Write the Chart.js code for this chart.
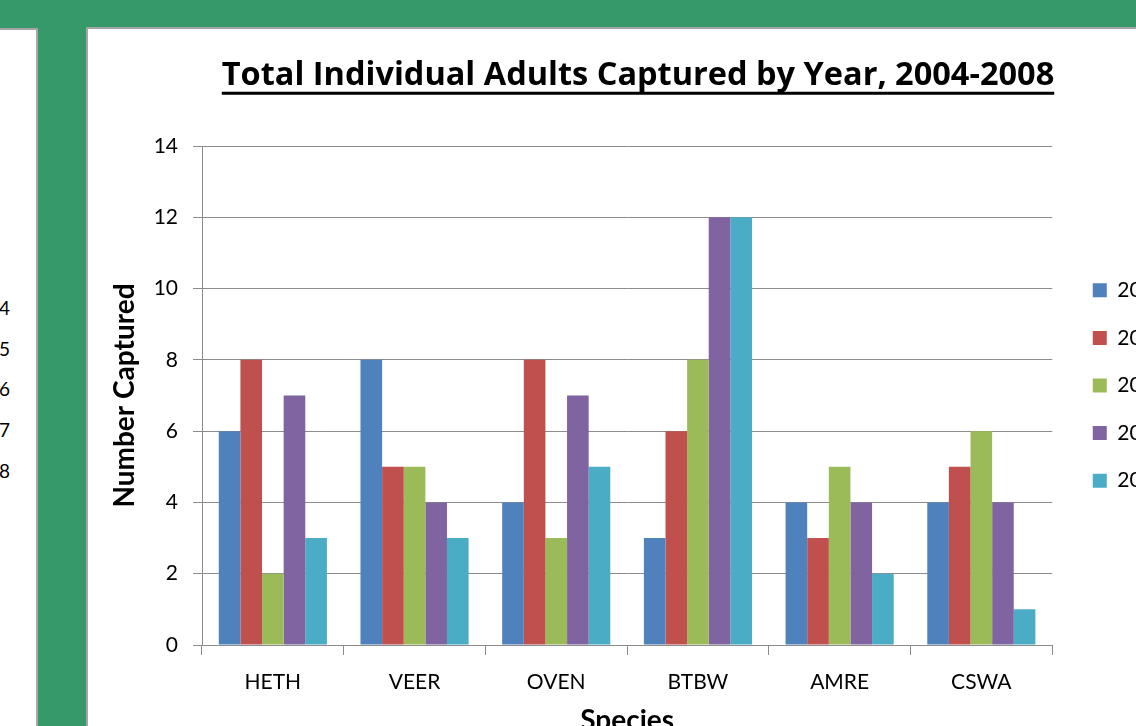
<!DOCTYPE html>
<html>
<head>
<meta charset="utf-8" />
<script src="https://cdn.jsdelivr.net/npm/chart.js@4.4.0/dist/chart.umd.min.js"></script>
<style>
  body { margin:0; width:1136px; height:726px; overflow:hidden; background:#35996a; font-family:Lato, sans-serif; position:relative; }
  #sheet { position:absolute; left:-2px; top:28px; width:38px; height:720px; background:#fff; border-top:2px solid #a6a6a6; border-right:2px solid #a6a6a6; overflow:hidden; }
  #sheet div { position:absolute; right:26px; height:20px; line-height:20px; font-size:19px; color:#000; white-space:nowrap; }
  #panel { position:absolute; left:86px; top:27px; width:1200px; height:760px; background:#fff; border-top:2px solid #a6a6a6; border-left:2px solid #a6a6a6; }
  #holder { position:absolute; left:1px; top:2px; width:1098px; height:709px; }
</style>
</head>
<body>
<div id="sheet">
  <div style="top:268px">2004</div>
  <div style="top:309px">2005</div>
  <div style="top:349px">2006</div>
  <div style="top:390px">2007</div>
  <div style="top:431px">2008</div>
</div>
<div id="panel">
  <div id="holder"><canvas id="chart" width="1098" height="709"></canvas></div>
</div>

<script>
const species = ['HETH', 'VEER', 'OVEN', 'BTBW', 'AMRE', 'CSWA'];
const years = ['2004', '2005', '2006', '2007', '2008'];
const y2004 = [6, 8, 4, 3, 4, 4];
const y2005 = [8, 5, 8, 6, 3, 5];
const y2006 = [2, 5, 3, 8, 5, 6];
const y2007 = [7, 4, 7, 12, 4, 4];
const y2008 = [3, 3, 5, 12, 2, 1];
const colors = ['#4f81bd', '#c0504d', '#9bbb59', '#8064a2', '#4bacc6'];

const FONT = 'Lato';
const TITLE_FONT = 'Open Sans';
const GRID = '#8c8c8c';

// excel-style underlined title
const underline = {
  id: 'underline',
  afterDraw(chart) {
    const t = chart.titleBlock;
    if (!t) return;
    const ctx = chart.ctx;
    const f = t.options.font;
    ctx.save();
    ctx.font = `bold ${f.size}px "${TITLE_FONT}"`;
    const w = ctx.measureText(t.options.text).width;
    const cx = (t.left + t.right) / 2;
    const y = t.top + t.options.padding.top + f.size * 1.2 / 2 + f.size * 0.5;
    ctx.fillStyle = '#000';
    ctx.fillRect(cx - w / 2, y, w, 3);
    ctx.restore();
  }
};

const series = [y2004, y2005, y2006, y2007, y2008];

new Chart(document.getElementById('chart'), {
  type: 'bar',
  data: {
    labels: species,
    datasets: years.map((y, i) => ({
      label: y,
      data: series[i],
      backgroundColor: colors[i],
      borderWidth: 0,
      categoryPercentage: 0.763,
      barPercentage: 1
    }))
  },
  plugins: [underline],
  options: {
    responsive: false,
    animation: false,
    devicePixelRatio: 1,
    layout: { padding: { top: 0, right: 11, bottom: 0, left: 11 } },
    plugins: {
      title: {
        display: true,
        text: 'Total Individual Adults Captured by Year, 2004-2008',
        color: '#000',
        font: { family: TITLE_FONT, size: 32.5, weight: 'bold' },
        padding: { top: 25, bottom: 51 }
      },
      legend: {
        position: 'right',
        labels: {
          boxWidth: 14, boxHeight: 14,
          color: '#000',
          font: { family: FONT, size: 21 },
          padding: 26.6
        }
      },
      tooltip: { enabled: false }
    },
    scales: {
      x: {
        offset: true,
        grid: { offset: true, drawOnChartArea: false, color: GRID, tickLength: 10, lineWidth: 1 },
        border: { color: GRID, width: 1 },
        ticks: { color: '#000', font: { family: FONT, size: 21 }, padding: 15 },
        title: { display: true, text: 'Species', color: '#000', font: { family: FONT, size: 28, weight: 'bold' }, padding: { top: 4, bottom: 2 } },
        afterFit(s) { s.height = 95; }
      },
      y: {
        min: 0, max: 14,
        grid: { color: GRID, tickLength: 9, lineWidth: 1 },
        border: { color: GRID, width: 1 },
        ticks: { stepSize: 2, color: '#000', font: { family: FONT, size: 21 }, padding: 15 },
        title: { display: true, text: 'Number Captured', color: '#000', font: { family: FONT, size: 28, weight: 'bold' }, padding: { top: 8, bottom: 0 } },
        afterFit(s) { s.width = 102; }
      },
      // empty spacer between plot and legend
      gap: {
        type: 'linear',
        position: 'right',
        grid: { display: false },
        border: { display: false },
        ticks: { display: false },
        afterFit(s) { s.width = 14; }
      }
    }
  }
});
</script>
</body>
</html>
